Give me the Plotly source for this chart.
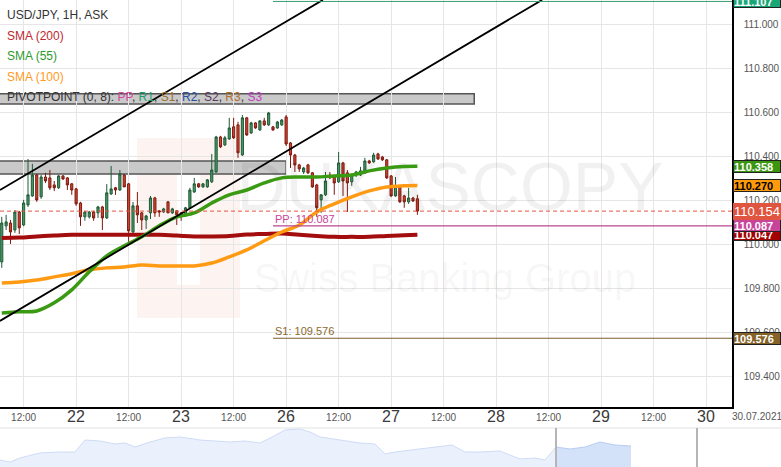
import plotly.graph_objects as go

# ---------------- data ----------------
# time axis: hours counted from 21 Jul 00:00, weekend removed (21, 22, 23, 26, 27, 28, 29, 30)
first_hour = 7
opens = [
    109.923, 110.087, 110.100, 110.068, 110.150, 110.091, 110.182, 110.223, 110.318, 110.219,
    110.309, 110.305, 110.273, 110.260, 110.314, 110.305, 110.278, 110.255, 110.191, 110.128,
    110.128, 110.150, 110.146, 110.173, 110.123, 110.232, 110.260, 110.250, 110.318, 110.278,
    110.059, 110.178, 110.146, 110.114, 110.146, 110.214, 110.155, 110.150, 110.196, 110.146,
    110.155, 110.146, 110.132, 110.169, 110.241, 110.278, 110.264, 110.264, 110.287, 110.332,
    110.491, 110.455, 110.482, 110.537, 110.546, 110.409, 110.578, 110.509, 110.555, 110.523,
    110.564, 110.546, 110.537, 110.532, 110.546, 110.582, 110.464, 110.409, 110.364, 110.332,
    110.364, 110.328, 110.273, 110.205, 110.228, 110.318, 110.309, 110.287, 110.373, 110.328,
    110.287, 110.318, 110.318, 110.328, 110.382, 110.378, 110.414, 110.400, 110.387, 110.314,
    110.223, 110.264, 110.223, 110.196, 110.214, 110.210]
highs = [
    110.128, 110.137, 110.114, 110.159, 110.155, 110.205, 110.391, 110.369, 110.323, 110.318,
    110.328, 110.341, 110.291, 110.318, 110.318, 110.309, 110.282, 110.260, 110.196, 110.155,
    110.155, 110.155, 110.178, 110.178, 110.277, 110.359, 110.264, 110.341, 110.323, 110.282,
    110.196, 110.241, 110.150, 110.137, 110.223, 110.219, 110.159, 110.169, 110.200, 110.169,
    110.159, 110.150, 110.173, 110.260, 110.305, 110.282, 110.282, 110.300, 110.414, 110.496,
    110.496, 110.496, 110.578, 110.578, 110.560, 110.591, 110.582, 110.560, 110.559, 110.568,
    110.578, 110.605, 110.541, 110.564, 110.573, 110.591, 110.468, 110.414, 110.369, 110.355,
    110.369, 110.332, 110.278, 110.232, 110.332, 110.332, 110.314, 110.423, 110.378, 110.341,
    110.323, 110.337, 110.355, 110.396, 110.387, 110.419, 110.419, 110.405, 110.391, 110.318,
    110.309, 110.269, 110.228, 110.260, 110.219, 110.228]
lows = [
    109.896, 110.068, 110.005, 110.055, 110.050, 110.085, 110.173, 110.219, 110.196, 110.210,
    110.282, 110.250, 110.245, 110.255, 110.296, 110.250, 110.228, 110.178, 110.087, 110.110,
    110.120, 110.110, 110.123, 110.068, 110.118, 110.228, 110.228, 110.246, 110.264, 110.014,
    110.050, 110.100, 110.068, 110.073, 110.118, 110.128, 110.128, 110.146, 110.146, 110.141,
    110.091, 110.110, 110.128, 110.164, 110.237, 110.260, 110.260, 110.260, 110.282, 110.328,
    110.441, 110.450, 110.478, 110.482, 110.396, 110.405, 110.496, 110.505, 110.528, 110.519,
    110.541, 110.541, 110.519, 110.528, 110.541, 110.450, 110.350, 110.332, 110.332, 110.323,
    110.323, 110.260, 110.128, 110.146, 110.223, 110.300, 110.228, 110.282, 110.223, 110.150,
    110.269, 110.309, 110.314, 110.323, 110.369, 110.373, 110.387, 110.382, 110.300, 110.219,
    110.219, 110.191, 110.169, 110.187, 110.196, 110.137]
closes = [
    110.100, 110.105, 110.059, 110.150, 110.078, 110.191, 110.228, 110.318, 110.205, 110.309,
    110.291, 110.260, 110.260, 110.314, 110.300, 110.273, 110.250, 110.187, 110.128, 110.150,
    110.150, 110.123, 110.173, 110.123, 110.237, 110.255, 110.250, 110.323, 110.264, 110.064,
    110.178, 110.137, 110.114, 110.132, 110.214, 110.146, 110.150, 110.164, 110.146, 110.164,
    110.137, 110.137, 110.169, 110.250, 110.278, 110.264, 110.278, 110.296, 110.341, 110.491,
    110.446, 110.487, 110.532, 110.487, 110.419, 110.578, 110.500, 110.555, 110.532, 110.564,
    110.546, 110.600, 110.523, 110.559, 110.568, 110.459, 110.409, 110.364, 110.346, 110.350,
    110.328, 110.264, 110.169, 110.228, 110.291, 110.305, 110.282, 110.373, 110.291, 110.282,
    110.318, 110.332, 110.337, 110.382, 110.373, 110.409, 110.391, 110.387, 110.305, 110.223,
    110.264, 110.196, 110.196, 110.214, 110.200, 110.154]

sma_index = [0, 4, 8, 12, 16, 20, 24, 28, 32, 36, 40, 44, 48, 52, 56, 60, 64, 68, 72, 76,
             80, 84, 88, 92, 95]
sma200 = [110.032, 110.034, 110.039, 110.043, 110.046, 110.046, 110.046, 110.046, 110.046,
          110.046, 110.043, 110.039, 110.039, 110.041, 110.048, 110.050, 110.052, 110.046,
          110.041, 110.037, 110.037, 110.037, 110.041, 110.044, 110.047]
sma55 = [109.691, 109.696, 109.700, 109.737, 109.796, 109.878, 109.950, 109.996, 110.037,
         110.087, 110.128, 110.146, 110.191, 110.228, 110.250, 110.282, 110.305, 110.309,
         110.309, 110.314, 110.318, 110.337, 110.350, 110.357, 110.358]
sma100 = [109.827, 109.832, 109.841, 109.855, 109.869, 109.887, 109.896, 109.900, 109.909,
          109.905, 109.905, 109.905, 109.918, 109.946, 109.978, 110.019, 110.059, 110.091,
          110.150, 110.187, 110.219, 110.246, 110.264, 110.269, 110.270]

last_price = 110.154
pivot_r1 = 111.107
pivot_pp = 110.087
pivot_s1 = 109.576
pivot_start_hour = 69

channel_upper_t = [6.6, 80.4]
channel_upper_p = [110.250, 111.114]
channel_lower_t = [6.6, 130.5]
channel_lower_p = [109.655, 111.114]

zone_low = [110.641, 110.323]
zone_high = [110.687, 110.382]
zone_end_hour = [115.0, 72.0]

y_ticks = [109.4, 109.6, 109.8, 110.0, 110.2, 110.4, 110.6, 110.8, 111.0]
half_day_ticks = [12, 36, 60, 84, 108, 132, 156]
day_ticks = [24, 48, 72, 96, 120, 144, 168]
day_labels = ["22", "23", "26", "27", "28", "29", "30"]
axis_date = "30.07.2021"

# navigator overview (position, level)
nav_pos = [0, 10, 20, 40, 60, 75, 85, 100, 115, 125, 135, 150, 165, 180, 200, 215, 230, 245,
           260, 272, 285, 300, 310, 320, 340, 360, 375, 385, 395, 420, 440, 452, 465, 480,
           500, 520, 535, 545, 556]
nav_level = [7, 5, 9, 14, 15, 15, 27, 26, 23, 24, 20, 25, 29, 30, 27, 26, 25, 26, 24, 30, 37,
             38, 35, 30, 27, 24, 23, 13, 15, 18, 21, 22, 15, 15, 16, 8, 9, 7, 20]
nav_sel_pos = [556, 570, 585, 600, 615, 631]
nav_sel_level = [20, 18, 20, 25, 22, 21]
nav_markers = [556, 697]

# ---------------- figure ----------------
X0, X1 = 6.6, 6.6 + 732 / 4.375
Y0, Y1 = 109.2636, 111.1136
hours = [first_hour + i for i in range(len(opens))]
sma_hours = [first_hour + i for i in sma_index]

FONT = "Liberation Sans, Arial, sans-serif"
NARROW = "Liberation Sans Narrow, Arial Narrow, Liberation Sans, sans-serif"

fig = go.Figure()

# watermark (drawn first so it sits under the data)
fig.add_trace(go.Scatter(x=[X0 + 450 / 4.375], y=[110.235], mode="text", text=["DUKASCOPY"],
                         textfont=dict(family=NARROW, size=68, color="rgba(0,0,0,0.055)"),
                         hoverinfo="skip", showlegend=False))
fig.add_trace(go.Scatter(x=[X0 + 445 / 4.375], y=[109.83], mode="text", text=["Swiss Banking Group"],
                         textfont=dict(family=NARROW, size=40, color="rgba(0,0,0,0.05)"),
                         hoverinfo="skip", showlegend=False))

fig.add_trace(go.Scatter(x=sma_hours, y=sma200, mode="lines", line=dict(color="#a30d0d", width=4, shape="spline"),
                         hoverinfo="skip", showlegend=False))
fig.add_trace(go.Scatter(x=sma_hours, y=sma100, mode="lines", line=dict(color="#ff9a12", width=3.5, shape="spline"),
                         hoverinfo="skip", showlegend=False))
fig.add_trace(go.Scatter(x=sma_hours, y=sma55, mode="lines", line=dict(color="#3a9a12", width=3.5, shape="spline"),
                         hoverinfo="skip", showlegend=False))

fig.add_trace(go.Candlestick(
    x=hours, open=opens, high=highs, low=lows, close=closes,
    increasing=dict(line=dict(color="#1f5a36", width=1), fillcolor="#4a9868"),
    decreasing=dict(line=dict(color="#7e1a10", width=1), fillcolor="#cf4531"),
    showlegend=False, hoverinfo="skip"))

fig.add_trace(go.Scatter(x=channel_upper_t, y=channel_upper_p, mode="lines",
                         line=dict(color="black", width=1.8), hoverinfo="skip", showlegend=False))
fig.add_trace(go.Scatter(x=channel_lower_t, y=channel_lower_p, mode="lines",
                         line=dict(color="black", width=1.8), hoverinfo="skip", showlegend=False))

# navigator
fig.add_trace(go.Scatter(x=nav_pos, y=nav_level, xaxis="x2", yaxis="y2", mode="lines", fill="tozeroy",
                         fillcolor="rgba(218,230,250,0.55)", line=dict(color="#cfdcf5", width=1),
                         hoverinfo="skip", showlegend=False))
fig.add_trace(go.Scatter(x=nav_sel_pos, y=nav_sel_level, xaxis="x2", yaxis="y2", mode="lines", fill="tozeroy",
                         fillcolor="rgba(200,218,248,0.8)", line=dict(color="#b8cdf2", width=1),
                         hoverinfo="skip", showlegend=False))

shapes = []
# logo watermark blocks
shapes.append(dict(type="rect", xref="paper", yref="paper", x0=137 / 732, x1=240 / 732,
                   y0=1 - 318 / 467, y1=1 - 138 / 467, fillcolor="rgba(235,110,90,0.08)",
                   line=dict(width=0), layer="below"))
shapes.append(dict(type="rect", xref="paper", yref="paper", x0=177 / 732, x1=200 / 732,
                   y0=1 - 285 / 467, y1=1 - 170 / 467, fillcolor="white",
                   line=dict(width=0), layer="below"))
for lo, hi, end in zip(zone_low, zone_high, zone_end_hour):
    shapes.append(dict(type="rect", xref="x", yref="y", x0=X0 - 1, x1=end, y0=lo, y1=hi,
                       fillcolor="#c9c9c9", line=dict(color="#555555", width=1.5), layer="below"))
# pivot lines
shapes.append(dict(type="line", xref="x", yref="y", x0=pivot_start_hour, x1=X1, y0=pivot_r1, y1=pivot_r1,
                   line=dict(color="#3a9b74", width=1)))
shapes.append(dict(type="line", xref="x", yref="y", x0=pivot_start_hour, x1=X1, y0=pivot_pp, y1=pivot_pp,
                   line=dict(color="#b8488e", width=1.2)))
shapes.append(dict(type="line", xref="x", yref="y", x0=pivot_start_hour, x1=X1, y0=pivot_s1, y1=pivot_s1,
                   line=dict(color="#7c5e2c", width=1.2)))
shapes.append(dict(type="line", xref="paper", yref="y", x0=0, x1=1, y0=last_price, y1=last_price,
                   line=dict(color="#e5533f", width=1, dash="4px,3px")))
# navigator frame
shapes.append(dict(type="line", xref="paper", yref="paper", x0=0, x1=781 / 732, y0=39 / 467, y1=39 / 467,
                   line=dict(color="#e2e2e2", width=1)))
for p in nav_markers:
    shapes.append(dict(type="line", xref="x2", yref="paper", x0=p, x1=p, y0=0, y1=39 / 467,
                       line=dict(color="#b5b5b5", width=2)))

ann = []
# legend block
legend_rows = [
    ("USD/JPY, 1H, ASK", "#333333"),
    ("SMA (200)", "#c0282d"),
    ("SMA (55)", "#2e9a2e"),
    ("SMA (100)", "#ff9a1e"),
]
for k, (txt, col) in enumerate(legend_rows):
    ann.append(dict(xref="paper", yref="paper", x=5 / 732, y=1 - (15 + 20.5 * k) / 467, xanchor="left",
                    yanchor="middle", text=txt, showarrow=False, font=dict(family=FONT, size=12, color=col)))
pivot_legend = ("PIVOTPOINT (0, 8): <span style='color:#cf4a9c'>PP</span>, "
                "<span style='color:#1f9e6e'>R1</span>, <span style='color:#9a7030'>S1</span>, "
                "<span style='color:#2c4fa0'>R2</span>, <span style='color:#5a3a60'>S2</span>, "
                "<span style='color:#b07030'>R3</span>, <span style='color:#c040c0'>S3</span>")
ann.append(dict(xref="paper", yref="paper", x=5 / 732, y=1 - 97 / 467, xanchor="left", yanchor="middle",
                text=pivot_legend, showarrow=False, font=dict(family=FONT, size=12, color="#333333")))

# pivot labels on chart
ann.append(dict(xref="x", yref="y", x=pivot_start_hour, y=pivot_pp, xanchor="left", yanchor="bottom",
                text="PP: %.3f" % pivot_pp, showarrow=False, yshift=-1,
                font=dict(family=FONT, size=11, color="#c8449b")))
ann.append(dict(xref="x", yref="y", x=pivot_start_hour, y=pivot_s1, xanchor="left", yanchor="bottom",
                text="S1: %.3f" % pivot_s1, showarrow=False, yshift=-1,
                font=dict(family=FONT, size=11, color="#8b6a2c")))

# right-side price boxes
boxes = [
    (pivot_r1, "#18a877", "white", 11),
    (sma55[-1], "#3b960f", "white", 11),
    (sma100[-1], "#ff9a0a", "black", 11),
    (sma200[-1], "#a30000", "white", 11),
    (pivot_pp, "#c8449b", "white", 11),
    (last_price, "#e0553f", "white", 13),
    (pivot_s1, "#856228", "white", 11),
]
for val, bg, fc, fs in boxes:
    big = fs > 11
    ann.append(dict(xref="paper", yref="y", x=1.001, y=val, xanchor="left", yanchor="middle",
                    text=("%.3f" % val) if big else "<b>%.3f</b>" % val, showarrow=False,
                    bgcolor=bg, bordercolor="#222222" if not big else bg, borderwidth=1, borderpad=0,
                    width=46, height=15 if big else 11, align="left",
                    font=dict(family=FONT, size=fs, color=fc)))

# day labels under the x axis
for t, lab in zip(day_ticks, day_labels):
    ann.append(dict(xref="x", yref="paper", x=t, y=1 - 416 / 467, xanchor="center", yanchor="middle",
                    text=lab, showarrow=False, font=dict(family=NARROW, size=16, color="#3a3a3a")))
ann.append(dict(xref="paper", yref="paper", x=757 / 732, y=1 - 416 / 467, xanchor="center", yanchor="middle",
                text=axis_date, showarrow=False, font=dict(family=NARROW, size=10, color="#555555")))

all_ticks = sorted(half_day_ticks + day_ticks)
tick_text = ["12:00" if t in half_day_ticks else "" for t in all_ticks]

fig.update_layout(
    width=781, height=467,
    margin=dict(l=0, r=49, t=0, b=0),
    paper_bgcolor="white", plot_bgcolor="white",
    shapes=shapes, annotations=ann,
    xaxis=dict(domain=[0, 1], range=[X0, X1], tickvals=all_ticks, ticktext=tick_text,
               showgrid=True, gridcolor="#e6e6e6", gridwidth=1, zeroline=False,
               showline=True, linecolor="black", linewidth=1.5, ticks="",
               tickfont=dict(family=NARROW, size=10, color="#555555"),
               rangeslider=dict(visible=False), anchor="y", fixedrange=True),
    yaxis=dict(domain=[60 / 467, 1], range=[Y0, Y1], side="right", tickvals=y_ticks,
               ticktext=["%.3f" % v for v in y_ticks], showgrid=True, gridcolor="#e6e6e6",
               zeroline=False, showline=True, linecolor="black", linewidth=1.5,
               ticks="outside", ticklen=8, tickcolor="rgba(0,0,0,0)",
               tickfont=dict(family=FONT, size=10, color="#555555"), anchor="x"),
    xaxis2=dict(domain=[0, 1], range=[0, 732], visible=False, anchor="y2", fixedrange=True),
    yaxis2=dict(domain=[0, 39 / 467], range=[0, 39], visible=False, anchor="x2", fixedrange=True),
    showlegend=False,
)

fig.write_html("out.html", config={"displayModeBar": False},
               post_script="document.body.style.margin='0';document.body.style.overflow='hidden';")
